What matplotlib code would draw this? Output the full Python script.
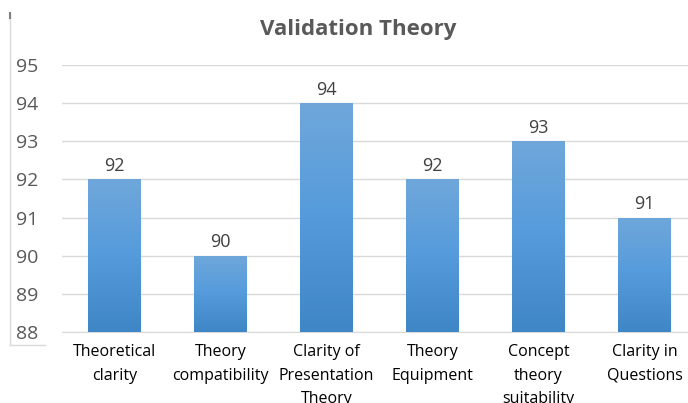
import matplotlib
matplotlib.use("Agg")
import matplotlib.pyplot as plt
import numpy as np
from matplotlib.colors import LinearSegmentedColormap
from matplotlib.lines import Line2D

categories = ["Theoretical\nclarity", "Theory\ncompatibility", "Clarity of\nPresentation\nTheory",
              "Theory\nEquipment", "Concept\ntheory\nsuitability", "Clarity in\nQuestions"]
values = [92, 90, 94, 92, 93, 91]
yticks = [88, 89, 90, 91, 92, 93, 94, 95]
title = "Validation Theory"

plt.rcParams['font.family'] = ['Open Sans', 'DejaVu Sans']

fig = plt.figure(figsize=(6.88, 4.03), dpi=100)
W, H = 688, 403
left, right = 61.5, 697.5
top_px, bot_px = 65, 332
ax = fig.add_axes([left / W, 1 - bot_px / H, (right - left) / W, (bot_px - top_px) / H])

x = np.arange(len(values))
bars = ax.bar(x, [v - 88 for v in values], bottom=88, width=0.5, color="#5B9BD5", zorder=2)

cmap = LinearSegmentedColormap.from_list("g", ["#3F86C6", "#559BDC", "#6FA7DA"])
grad = np.linspace(0, 1, 256).reshape(-1, 1)
for b in bars:
    bx, by = b.get_x(), b.get_y()
    bw, bh = b.get_width(), b.get_height()
    im = ax.imshow(grad, cmap=cmap, aspect="auto", origin="lower",
                   extent=[bx, bx + bw, by, by + bh], zorder=3)
    im.set_clip_path(b)

for xi, v in zip(x, values):
    ax.text(xi, v + 0.12, str(v), ha="center", va="bottom", fontsize=13, color="#404040", zorder=4)

ax.set_xlim(-0.5, 5.5)
ax.set_ylim(88, 95)
ax.set_yticks(yticks)
ax.set_yticklabels([str(t) for t in yticks], fontsize=14, color="#595959")
ax.set_xticks(x)
ax.set_xticklabels(categories, fontsize=11.5, color="#000000", linespacing=1.62)
ax.tick_params(axis="both", length=0)
ax.tick_params(axis="x", pad=9)
for lbl in ax.get_yticklabels():
    lbl.set_horizontalalignment("left")
ax.yaxis.set_tick_params(pad=46 * 72 / 100)
ax.grid(axis="y", color="#D9D9D9", linewidth=1, zorder=0)
ax.set_axisbelow(True)
for s in ax.spines.values():
    s.set_visible(False)
ax.spines["bottom"].set_visible(True)
ax.spines["bottom"].set_color("#D9D9D9")

# Chart frame
fig.add_artist(Line2D([10 / W, 10 / W], [1 - 13 / H, 1 - 345 / H], color="#D9D9D9", lw=1))
fig.add_artist(Line2D([10 / W, 45 / W], [1 - 345 / H, 1 - 345 / H], color="#D9D9D9", lw=1))
fig.add_artist(Line2D([10 / W, 10 / W], [1 - 13 / H, 1 - 18 / H], color="#808080", lw=1.5))

fig.text(358 / W, 1 - 29 / H, title, ha="center", va="center", fontsize=16, fontweight="bold", color="#595959")

fig.savefig("out.png", dpi=100)
